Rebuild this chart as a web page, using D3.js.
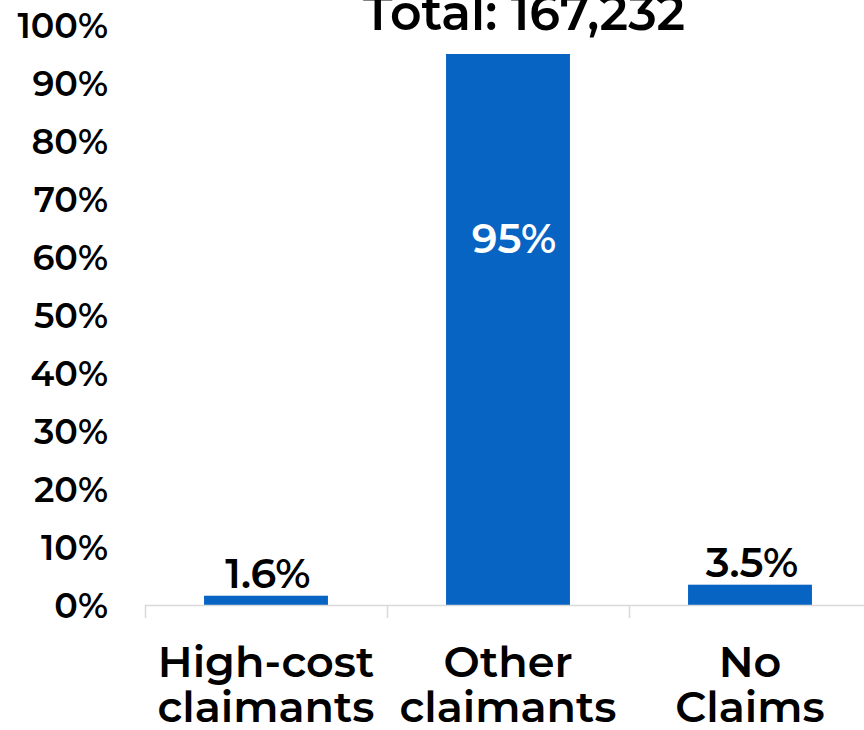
<!DOCTYPE html>
<html>
<head>
<meta charset="utf-8">
<script src="https://cdn.jsdelivr.net/npm/d3@7"></script>
<style>
  body { margin: 0; background: #fff; }
  svg { display: block; font-family: "Montserrat", "Open Sans", sans-serif; font-weight: 600; }
</style>
</head>
<body>
<svg id="chart"></svg>
<script>
const categories = [["High-cost", "claimants"], ["Other", "claimants"], ["No", "Claims"]];
const values = [1.6, 95, 3.5];
const valueLabels = ["1.6%", "95%", "3.5%"];
const yTicks = [0, 10, 20, 30, 40, 50, 60, 70, 80, 90, 100];
const title = "Total: 167,232";

const width = 864;
const height = 730;
const marginLeft = 145;
const bandWidth = 242;
const plotTop = 25;
const plotBottom = 605;

const svg = d3.select("#chart")
  .attr("width", width)
  .attr("height", height);

const xScale = d3.scaleBand()
  .domain(d3.range(categories.length))
  .range([marginLeft, marginLeft + bandWidth * categories.length])
  .paddingInner(0.488)
  .paddingOuter(0.244);
// band boundaries, used for the tick marks
const xEdges = d3.scaleLinear()
  .domain([0, categories.length])
  .range([marginLeft, marginLeft + bandWidth * categories.length]);
const yScale = d3.scaleLinear()
  .domain([0, 100])
  .range([plotBottom, plotTop]);

// y axis labels
svg.selectAll(".yLabel")
  .data(yTicks)
  .enter()
  .append("text")
  .attr("class", "yLabel")
  .attr("x", 108)
  .attr("y", d => yScale(d))
  .attr("dy", "0.36em")
  .attr("text-anchor", "end")
  .attr("font-size", 35)
  .attr("fill", "#000")
  .text(d => d + "%");

// bars
svg.selectAll(".bar")
  .data(values)
  .enter()
  .append("rect")
  .attr("class", "bar")
  .attr("x", (d, i) => xScale(i))
  .attr("width", xScale.bandwidth())
  .attr("y", d => yScale(d))
  .attr("height", d => yScale(0) - yScale(d))
  .attr("fill", "#0764c3");

// x axis line and tick marks
svg.append("line")
  .attr("x1", xEdges(0))
  .attr("x2", xEdges(categories.length))
  .attr("y1", plotBottom + 0.5)
  .attr("y2", plotBottom + 0.5)
  .attr("stroke", "#d9d9d9")
  .attr("stroke-width", 1.5);
svg.selectAll(".xTick")
  .data(d3.range(categories.length + 1))
  .enter()
  .append("line")
  .attr("class", "xTick")
  .attr("x1", d => xEdges(d) + 0.5)
  .attr("x2", d => xEdges(d) + 0.5)
  .attr("y1", plotBottom)
  .attr("y2", plotBottom + 13)
  .attr("stroke", "#d9d9d9")
  .attr("stroke-width", 1.5);

// value labels
svg.selectAll(".valueLabel")
  .data(values)
  .enter()
  .append("text")
  .attr("class", "valueLabel")
  .attr("x", (d, i) => xScale(i) + xScale.bandwidth() / 2)
  .attr("y", d => d > 50 ? yScale(d) + 199 : yScale(d) - 8)
  .attr("dx", d => d > 50 ? 6 : 2)
  .attr("text-anchor", "middle")
  .attr("font-size", 41)
  .attr("fill", d => d > 50 ? "#fff" : "#000")
  .text((d, i) => valueLabels[i]);

// category labels
const catGroups = svg.selectAll(".catLabel")
  .data(categories)
  .enter()
  .append("text")
  .attr("class", "catLabel")
  .attr("text-anchor", "middle")
  .attr("font-size", 43)
  .attr("fill", "#000");
catGroups.selectAll("tspan")
  .data((d, i) => d.map(line => ({ line, i })))
  .enter()
  .append("tspan")
  .attr("x", d => xScale(d.i) + xScale.bandwidth() / 2)
  .attr("y", (d, j) => 677 + j * 45)
  .text(d => d.line);

// title
svg.append("text")
  .attr("x", 524)
  .attr("y", 30)
  .attr("text-anchor", "middle")
  .attr("font-size", 49)
  .attr("fill", "#000")
  .text(title);
</script>
</body>
</html>
